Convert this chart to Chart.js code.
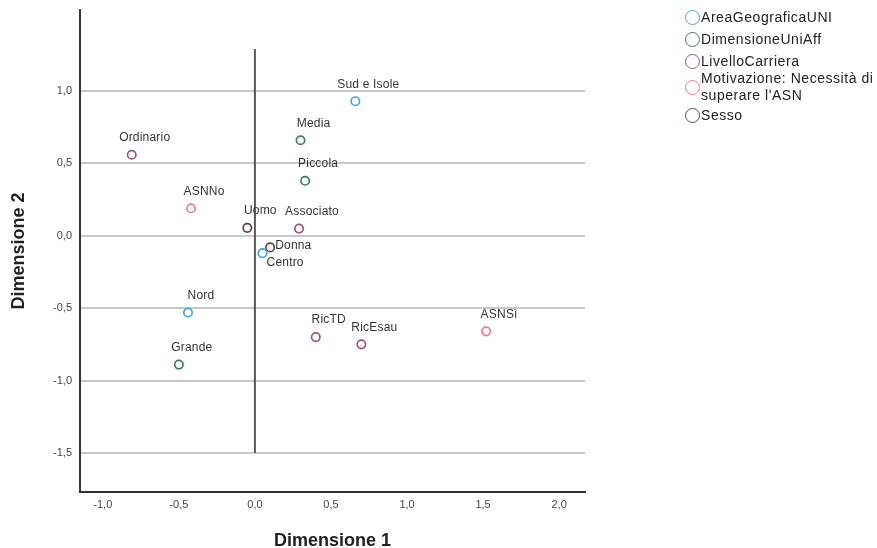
<!DOCTYPE html>
<html lang="it">
<head>
  <meta charset="UTF-8">
  <title>Punti di categoria congiunti</title>
  <script src="https://cdn.jsdelivr.net/npm/chart.js"></script>
  <style>
    html, body { margin: 0; padding: 0; background: #fff; }
    #wrap { position: relative; width: 877px; height: 548px; }
    #legend { position: absolute; left: 685px; top: 9px; font-family: "Liberation Sans", Arial, sans-serif; font-size: 14px; letter-spacing: 0.55px; color: #222; }
    .item { display: flex; align-items: center; margin-bottom: 5px; line-height: 17px; }
    .item.two { margin-top: -5px; margin-bottom: 3px; }
    .dot { width: 15px; height: 15px; border-radius: 50%; border: 1.7px solid; box-sizing: border-box; margin-right: 1px; flex: none; }
  </style>
</head>
<body>
  <div id="wrap">
    <canvas id="chart" width="877" height="548"></canvas>
    <div id="legend"></div>
  </div>

  <script>
    // categories and coordinates
    const groupNames = ['AreaGeograficaUNI', 'DimensioneUniAff', 'LivelloCarriera', 'Motivazione: Necessità di<br>superare l\'ASN', 'Sesso'];
    const groupColors = ['#41a6de', '#3b7b74', '#a2527f', '#f17b7c', '#6d3a48'];

    const areaLabels = ['Nord', 'Centro', 'Sud e Isole'];
    const areaX = [-0.44, 0.05, 0.66];
    const areaY = [-0.53, -0.12, 0.93];

    const dimLabels = ['Piccola', 'Media', 'Grande'];
    const dimX = [0.33, 0.30, -0.50];
    const dimY = [0.38, 0.66, -0.89];

    const carrieraLabels = ['RicTD', 'RicEsau', 'Associato', 'Ordinario'];
    const carrieraX = [0.40, 0.70, 0.29, -0.81];
    const carrieraY = [-0.70, -0.75, 0.05, 0.56];

    const motivLabels = ['ASNSì', 'ASNNo'];
    const motivX = [1.52, -0.42];
    const motivY = [-0.66, 0.19];

    const sessoLabels = ['Uomo', 'Donna'];
    const sessoX = [-0.05, 0.10];
    const sessoY = [0.055, -0.08];

    const xTicks = [-1.0, -0.5, 0.0, 0.5, 1.0, 1.5, 2.0];
    const yTicks = [-1.5, -1.0, -0.5, 0.0, 0.5, 1.0];

    const groups = [
      [areaLabels, areaX, areaY],
      [dimLabels, dimX, dimY],
      [carrieraLabels, carrieraX, carrieraY],
      [motivLabels, motivX, motivY],
      [sessoLabels, sessoX, sessoY]
    ];

    const fmt = v => v.toFixed(1).replace('.', ',');

    const datasets = groups.map((g, i) => ({
      label: groupNames[i],
      names: g[0],
      data: g[1].map((x, j) => ({ x: x, y: g[2][j] })),
      pointStyle: 'circle',
      pointRadius: 4.2,
      pointBorderWidth: 1.7,
      pointBorderColor: groupColors[i],
      pointBackgroundColor: '#fff',
      showLine: false
    }));

    // vertical reference line at x = 0
    datasets.unshift({
      label: 'ref',
      data: [{ x: 0, y: 1.29 }, { x: 0, y: -1.5 }],
      showLine: true,
      borderColor: '#595959',
      borderWidth: 2,
      pointRadius: 0
    });

    // a few labels sit beside the point instead of above it
    const labelSpots = {
      'Donna': { dx: 5, dy: -2, align: 'left' },
      'Centro': { dx: 4, dy: 10, align: 'left' }
    };

    const pointLabels = {
      id: 'pointLabels',
      afterDatasetsDraw(chart) {
        const ctx = chart.ctx;
        ctx.save();
        ctx.font = '12px "Liberation Sans", Arial, sans-serif';
        ctx.letterSpacing = '0.2px';
        ctx.fillStyle = '#333';
        ctx.textBaseline = 'middle';
        chart.data.datasets.forEach((ds, i) => {
          if (!ds.names) return;
          chart.getDatasetMeta(i).data.forEach((pt, j) => {
            const name = ds.names[j];
            const s = labelSpots[name] || { dx: 13, dy: -17, align: 'center' };
            ctx.textAlign = s.align;
            ctx.fillText(name, pt.x + s.dx, pt.y + s.dy);
          });
        });
        ctx.restore();
      },
      afterDraw(chart) {
        const ctx = chart.ctx;
        const a = chart.chartArea;
        ctx.save();
        ctx.font = 'bold 18px "Liberation Sans", Arial, sans-serif';
        ctx.fillStyle = '#222';
        ctx.textAlign = 'center';
        ctx.textBaseline = 'middle';
        ctx.fillText('Dimensione 1', (a.left + a.right) / 2, 541);
        ctx.translate(19, (a.top + a.bottom) / 2);
        ctx.rotate(-Math.PI / 2);
        ctx.fillText('Dimensione 2', 0, 0);
        ctx.restore();
      }
    };

    const tickFont = { family: '"Liberation Sans", Arial, sans-serif', size: 11 };

    new Chart(document.getElementById('chart'), {
      type: 'scatter',
      data: { datasets: datasets },
      plugins: [pointLabels],
      options: {
        responsive: false,
        animation: false,
        layout: { padding: { left: 0, right: 292, top: 10, bottom: 0 } },
        plugins: { legend: { display: false }, tooltip: { enabled: false } },
        scales: {
          x: {
            type: 'linear',
            min: -1.15,
            max: 2.17,
            afterBuildTicks: s => { s.ticks = xTicks.map(v => ({ value: v })); },
            afterFit: s => { s.height = 56; s.paddingLeft = 0; s.paddingRight = 0; },
            ticks: { callback: v => fmt(v), color: '#444', font: tickFont, padding: 6, maxRotation: 0 },
            grid: { color: 'rgba(0,0,0,0)', drawTicks: false },
            border: { color: '#333', width: 2 }
          },
          y: {
            type: 'linear',
            min: -1.77,
            max: 1.56,
            afterBuildTicks: s => { s.ticks = yTicks.map(v => ({ value: v })); },
            afterFit: s => { s.width = 80; s.paddingTop = 0; s.paddingBottom = 0; },
            ticks: { callback: v => fmt(v), color: '#444', font: tickFont, padding: 8 },
            grid: { color: '#c8c8c8', lineWidth: 2, drawTicks: false },
            border: { color: '#333', width: 2 }
          }
        }
      }
    });

    // html legend
    const legend = document.getElementById('legend');
    groupNames.forEach((name, i) => {
      const row = document.createElement('div');
      row.className = name.indexOf('<br>') >= 0 ? 'item two' : 'item';
      row.innerHTML = '<span class="dot" style="border-color:' + groupColors[i] + '"></span><span>' + name + '</span>';
      legend.appendChild(row);
    });
  </script>
</body>
</html>
